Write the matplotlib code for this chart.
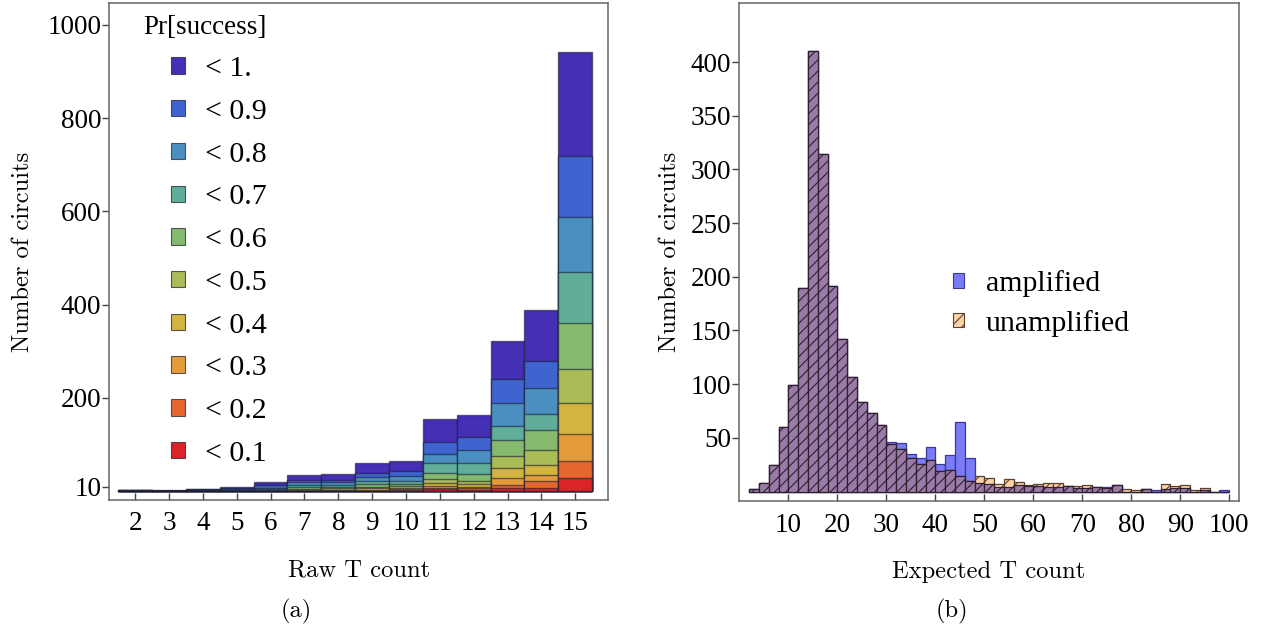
import numpy as np
import matplotlib.pyplot as plt
from matplotlib.patches import Patch

plt.rcParams['hatch.linewidth'] = 0.8

# (a) circuits per raw T count, counted below each success probability
raw_t = [2, 3, 4, 5, 6, 7, 8, 9, 10, 11, 12, 13, 14, 15]
below_1_0 = [3, 3, 5, 9, 20, 34, 38, 60, 66, 156, 163, 323, 388, 942]
below_0_9 = [3, 1, 4, 6, 13, 25, 24, 39, 43, 105, 117, 240, 279, 718]
below_0_8 = [3, 1, 3, 4, 8, 19, 19, 31, 33, 80, 89, 190, 221, 587]
below_0_7 = [2, 0, 2, 2, 5, 14, 14, 23, 22, 60, 61, 139, 165, 469]
below_0_6 = [1, 0, 1, 1, 2, 9, 10, 16, 15, 39, 38, 110, 131, 360]
below_0_5 = [0, 0, 0, 0, 1, 5, 6, 10, 11, 26, 22, 76, 88, 262]
below_0_4 = [0, 0, 0, 0, 0, 3, 3, 6, 7, 17, 15, 51, 57, 190]
below_0_3 = [0, 0, 0, 0, 0, 1, 2, 3, 4, 11, 10, 29, 35, 122]
below_0_2 = [0, 0, 0, 0, 0, 0, 1, 1, 2, 8, 6, 14, 21, 66]
below_0_1 = [0, 0, 0, 0, 0, 0, 0, 0, 1, 4, 3, 7, 6, 28]
thresholds = ['< 1.', '< 0.9', '< 0.8', '< 0.7', '< 0.6',
              '< 0.5', '< 0.4', '< 0.3', '< 0.2', '< 0.1']

# (b) histogram of expected T count, bins of width 2
bin_left = list(range(2, 100, 2))
amplified = [2, 8, 25, 60, 99, 190, 410, 314, 191, 142, 107, 83, 73, 62,
             46, 45, 35, 31, 41, 26, 34, 65, 31, 8, 7, 4, 4, 6, 5, 5, 4, 4,
             5, 3, 3, 4, 4, 6, 0, 0, 2, 1, 2, 3, 3, 0, 1, 0, 1]
unamplified = [2, 8, 25, 60, 99, 190, 410, 314, 191, 142, 107, 83, 73, 62,
               44, 40, 31, 26, 29, 19, 20, 14, 10, 14, 13, 7, 12, 9, 6, 7, 8, 8,
               5, 5, 6, 4, 3, 6, 2, 1, 2, 0, 7, 5, 6, 1, 3, 0, 0]

colors = ['#4530b5', '#3f64cf', '#4a8fc0', '#60ad99', '#84b96e',
          '#a9bc55', '#d1b540', '#e49b39', '#e5672f', '#dc2327']
blue = '#7b7bf7'
peach = '#fdd3a6'
mauve = '#9a7aa6'

tick_font = {'family': 'Liberation Serif', 'size': 19.5}
label_font = {'family': 'cmr10', 'size': 17.7}
legend_font = {'family': 'Liberation Serif', 'size': 21.5}

def style_axes(ax):
    for loc, spine in ax.spines.items():
        spine.set_color('#666666')
        spine.set_linewidth(1.1)
    ax.tick_params(axis='x', direction='in', length=5, width=1, color='#444444',
                   top=False, pad=8)
    ax.tick_params(axis='y', direction='out', length=5, width=1, color='#444444',
                   right=False, pad=0.5)
    for lab in ax.get_xticklabels() + ax.get_yticklabels():
        lab.set_fontfamily(tick_font['family'])
        lab.set_fontsize(tick_font['size'])

fig = plt.figure(figsize=(12.65, 6.34), dpi=100)

# Left panel
ax1 = fig.add_axes([0.0862, 0.2114, 0.3945, 0.7839])
series = [below_1_0, below_0_9, below_0_8, below_0_7, below_0_6,
          below_0_5, below_0_4, below_0_3, below_0_2, below_0_1]
for vals, c in zip(series, colors):
    ax1.bar(raw_t, vals, width=1, color=c, edgecolor=(0.1, 0.1, 0.2, 0.6), linewidth=1)

ax1.set_xlim(1.23, 15.97)
ax1.set_ylim(-18.6, 1046.7)
ax1.set_xticks(raw_t)
ax1.set_yticks([10, 200, 400, 600, 800, 1000])
style_axes(ax1)
ax1.set_xlabel('Raw T count', fontdict=label_font)
ax1.xaxis.set_label_coords(0.5, -0.12)
ax1.set_ylabel('Number of circuits', fontdict=label_font)
ax1.yaxis.set_label_coords(-0.150, 0.5)

handles = [Patch(facecolor=c, edgecolor=(0.1, 0.1, 0.2, 0.7), linewidth=0.8) for c in colors]
ax1.legend(handles, thresholds, loc='upper left', bbox_to_anchor=(0.094, 0.923),
           frameon=False, borderpad=0, handlelength=0.47, handleheight=0.47,
           handletextpad=0.67, labelspacing=0.56, prop=legend_font)
ax1.text(0.068, 0.95, 'Pr[success]', transform=ax1.transAxes, ha='left', va='center',
         fontfamily='Liberation Serif', fontsize=19.5)

# Right panel
ax2 = fig.add_axes([0.5842, 0.209, 0.3953, 0.7863])
overlap = np.minimum(amplified, unamplified)
ax2.bar(bin_left, amplified, width=2, align='edge', color=blue,
        edgecolor='#3838a0', linewidth=0.9)
ax2.bar(bin_left, unamplified, width=2, align='edge', color=peach,
        edgecolor='#5a4030', linewidth=0.9, hatch='///')
ax2.bar(bin_left, overlap, width=2, align='edge', color=mauve,
        edgecolor='#2e2030', linewidth=0.9, hatch='///')

ax2.set_xlim(-0.1, 102)
ax2.set_ylim(-9.3, 455)
ax2.set_xticks(range(10, 101, 10))
ax2.set_yticks(range(50, 401, 50))
style_axes(ax2)
ax2.set_xlabel('Expected T count', fontdict=label_font)
ax2.xaxis.set_label_coords(0.5, -0.12)
ax2.set_ylabel('Number of circuits', fontdict=label_font)
ax2.yaxis.set_label_coords(-0.116, 0.5)

leg_handles = [Patch(facecolor=blue, edgecolor='#3838a0', linewidth=0.8),
               Patch(facecolor=peach, edgecolor='#5a4030', linewidth=0.8, hatch='///')]
ax2.legend(leg_handles, ['amplified', 'unamplified'], loc='upper left',
           bbox_to_anchor=(0.398, 0.494), frameon=False, borderpad=0,
           handlelength=0.37, handleheight=0.37, handletextpad=0.72,
           labelspacing=0.42, prop=legend_font)

fig.text(296 / 1265, 1 - 611 / 634, '(a)', ha='center', va='center',
         fontfamily='cmr10', fontsize=17.7)
fig.text(952 / 1265, 1 - 611 / 634, '(b)', ha='center', va='center',
         fontfamily='cmr10', fontsize=17.7)

fig.savefig('out.png', dpi=100)
